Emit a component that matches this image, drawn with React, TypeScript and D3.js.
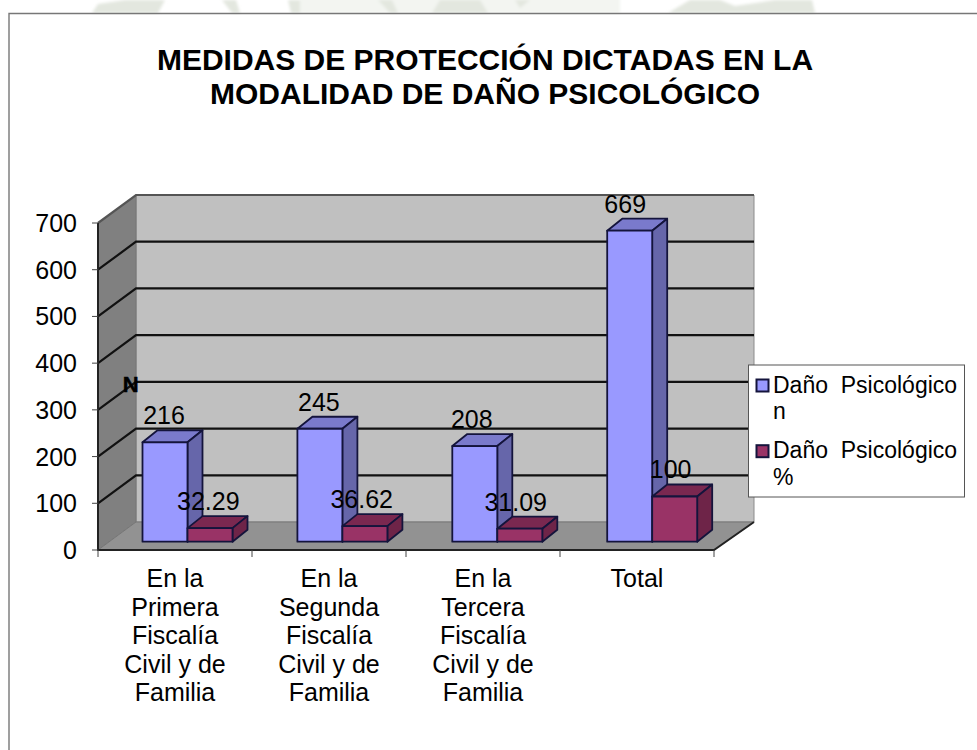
import React from "react";
import * as d3 from "d3";

const categories = [
  ["En la", "Primera", "Fiscalía", "Civil y de", "Familia"],
  ["En la", "Segunda", "Fiscalía", "Civil y de", "Familia"],
  ["En la", "Tercera", "Fiscalía", "Civil y de", "Familia"],
  ["Total"],
];
const seriesN = [216, 245, 208, 669];
const seriesPct = [32.29, 36.62, 31.09, 100];
const pctLabels = ["32.29", "36.62", "31.09", "100"];
const nLabelOffsets = [21.5, 21.5, 19.5, 18];
const pctLabelOffsets = [65.8, 64.3, 63.4, 63.4];
const yTicks = [0, 100, 200, 300, 400, 500, 600, 700];
const titleLines = ["MEDIDAS DE PROTECCIÓN DICTADAS EN LA", "MODALIDAD DE DAÑO PSICOLÓGICO"];
const legendItems = [["Daño  Psicológico", "n"], ["Daño  Psicológico", "%"]];

const font = "'Liberation Sans', Arial, sans-serif";
const W = 977, H = 750;
const x0 = 98, x1 = 714, yBase = 550, yTop = 223;
const depthX = 38, depthY = 28;
const barDX = 15, barDY = 12;
const barInsetX = 44.5, barInsetY = 8.3, barW = 45;

const y = d3.scaleLinear().domain([0, 700]).range([yBase, yTop]);
const xAxis = d3.scaleBand<number>().domain([0, 1, 2, 3]).range([x0, x1]);
const xBars = d3.scaleLinear().domain([0, 1]).range([x0 + barInsetX, x0 + barInsetX + 154.9]);
const poly = d3.line();
const barTop = (v: number) => y(v) - barInsetY + 1.5;

function Bar({ x, v, front, side, top }: { x: number; v: number; front: string; side: string; top: string }) {
  const b = yBase - barInsetY;
  const t = barTop(v);
  const r = x + barW;
  return (
    <g stroke="#14143c" strokeWidth={1.8} strokeLinejoin="round">
      <path d={poly([[x, t], [x + barDX, t - barDY], [r + barDX, t - barDY], [r, t]]) + "Z"} fill={top} />
      <path d={poly([[r, t], [r + barDX, t - barDY], [r + barDX, b - barDY], [r, b]]) + "Z"} fill={side} />
      <rect x={x} y={t} width={barW} height={b - t} fill={front} />
    </g>
  );
}

export default function App() {
  const band = xAxis.step();
  return (
    <svg width={W} height={H} viewBox={`0 0 ${W} ${H}`}
      style={{ position: "absolute", left: 0, top: 0, background: "#fff" }} fontFamily={font}>
      <defs>
        <filter id="soft"><feGaussianBlur stdDeviation="1.5" /></filter>
      </defs>
      <g filter="url(#soft)">
        <rect x={300} y={-4} width={320} height={17} fill="#f3f5f1" />
        <g fill="#e3e7df">
          <path d="M92 13 L98 4 L125 0 L165 0 L158 13 Z" />
          <path d="M222 0 L236 0 L240 13 L232 13 Z" />
          <path d="M288 0 L300 0 L300 13 L291 13 Z" />
          <path d="M378 0 L392 0 L398 13 L390 13 Z" />
          <path d="M432 13 L440 0 L480 0 L488 13 Z" />
          <path d="M515 0 L530 0 L520 8 Z" />
          <path d="M668 13 L690 0 L720 0 L735 6 L775 0 L812 0 L815 13 Z" />
        </g>
      </g>
      <path d="M9 750 V13.5 H977" fill="none" stroke="#777" strokeWidth={1.4} />

      <g fontSize={30} fontWeight={700} textAnchor="middle" fill="#000">
        {titleLines.map((t, i) => <text key={t} x={485} y={70 + i * 34}>{t}</text>)}
      </g>

      {/* walls */}
      <path d={poly([[x0 + depthX, yTop - depthY], [x1 + depthX + 2, yTop - depthY], [x1 + depthX + 2, yBase - depthY], [x0 + depthX, yBase - depthY]]) + "Z"}
        fill="#c0c0c0" stroke="#8c8c8c" />
      <path d={poly([[x0, yTop], [x0 + depthX, yTop - depthY], [x0 + depthX, yBase - depthY], [x0, yBase]]) + "Z"}
        fill="#808080" stroke="#777" />
      <path d={poly([[x0, yBase], [x0 + depthX, yBase - depthY], [x1 + depthX + 2, yBase - depthY], [x1, yBase]]) + "Z"}
        fill="#929292" stroke="#777" />

      {/* gridlines */}
      <g fill="none" strokeWidth={2.2}>
        {yTicks.slice(1).map(v => (
          <path key={v} d={poly([[x0, y(v)], [x0 + depthX, y(v) - depthY], [x1 + depthX + 2, y(v) - depthY]])!}
            stroke={v === 700 ? "#555" : "#111"} />
        ))}
      </g>
      <path d={poly([[x0, yTop], [x0, yBase], [x1, yBase], [x1 + depthX + 2, yBase - depthY]])!} fill="none" stroke="#222" strokeWidth={2} />

      {/* axis ticks */}
      <g stroke="#444" strokeWidth={1}>
        {yTicks.map(v => <line key={v} x1={x0 - 6} x2={x0} y1={y(v)} y2={y(v)} />)}
        {[0, 1, 2, 3].map(i => <line key={i} x1={xAxis(i)!} x2={xAxis(i)!} y1={yBase} y2={yBase + 7} />)}
        <line x1={x1} x2={x1} y1={yBase} y2={yBase + 7} />
      </g>
      <g fontSize={25} textAnchor="end" fill="#000">
        {yTicks.map(v => <text key={v} x={77} y={y(v) + 9}>{v}</text>)}
      </g>
      <text x={130.6} y={392} fontSize={22} fontWeight={700} textAnchor="middle" stroke="#000" strokeWidth={0.5}>N</text>

      {/* bars */}
      {seriesN.map((v, i) => (
        <g key={i}>
          <Bar x={xBars(i)} v={v} front="#9999ff" side="#6666aa" top="#7a7acc" />
          <Bar x={xBars(i) + barW} v={seriesPct[i]} front="#993366" side="#6e2448" top="#7a2850" />
        </g>
      ))}
      <g fontSize={25} textAnchor="middle" fill="#000">
        {seriesN.map((v, i) => <text key={i} x={xBars(i) + nLabelOffsets[i]} y={barTop(v) - 18}>{v}</text>)}
        {seriesPct.map((v, i) => <text key={i} x={xBars(i) + pctLabelOffsets[i]} y={barTop(v) - 18}>{pctLabels[i]}</text>)}
      </g>

      {/* category labels */}
      <g fontSize={25} textAnchor="middle" fill="#000">
        {categories.map((lines, i) =>
          lines.map((l, j) => <text key={l + j} x={xAxis(i)! + band / 2} y={587 + j * 28.6}>{l}</text>)
        )}
      </g>

      {/* legend */}
      <rect x={748.5} y={365} width={216} height={132} fill="#fff" stroke="#555" strokeWidth={1} />
      {legendItems.map((lines, i) => (
        <g key={i}>
          <rect x={756.5} y={379.5 + i * 65.7} width={12} height={12} fill={i === 0 ? "#9999ff" : "#993366"} stroke="#14143c" strokeWidth={2} />
          <g fontSize={23} fill="#000">
            {lines.map((l, j) => <text key={j} x={773} y={392.7 + i * 65.7 + j * 26.5} style={{ whiteSpace: "pre" }}>{l}</text>)}
          </g>
        </g>
      ))}
    </svg>
  );
}
